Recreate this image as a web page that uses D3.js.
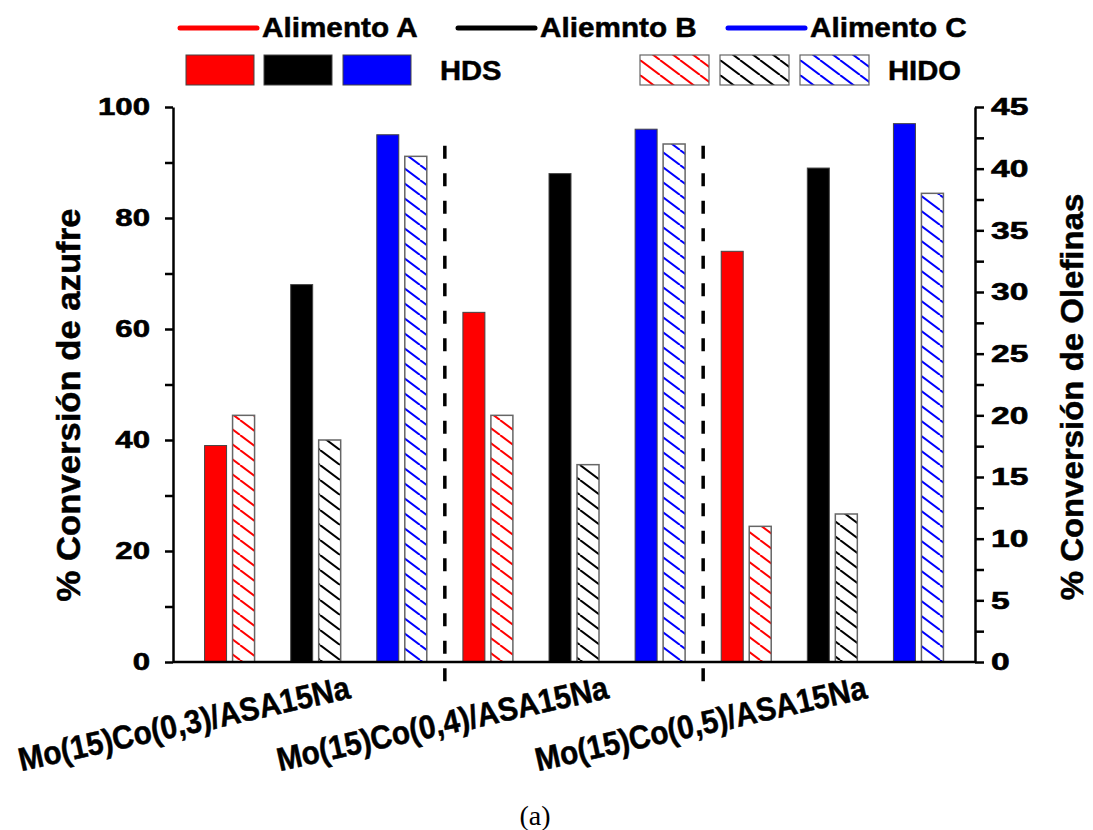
<!DOCTYPE html>
<html>
<head>
<meta charset="utf-8">
<script src="https://cdn.jsdelivr.net/npm/d3@7"></script>
<style>
  body { margin: 0; background: #fff; }
  svg text { font-family: "Liberation Sans", Arial, sans-serif; font-weight: bold; fill: #000; }
  svg text.heavy { stroke: #000; stroke-width: 0.5px; }
</style>
</head>
<body>
<svg id="chart" width="1093" height="830"></svg>
<script>
// Catalysts and feeds
const catalysts = ["Mo(15)Co(0,3)/ASA15Na", "Mo(15)Co(0,4)/ASA15Na", "Mo(15)Co(0,5)/ASA15Na"];
const feeds = ["Alimento A", "Aliemnto B", "Alimento C"];
const feedColors = ["#ff0000", "#000000", "#0000ff"];

// HDS: % sulfur conversion (left axis); one row per catalyst, one column per feed
const hdsValues = [
  [39, 68, 95],
  [63, 88, 96],
  [74, 89, 97]
];
// HIDO: % olefin conversion (right axis)
const hidoValues = [
  [20, 18, 41],
  [20, 16, 42],
  [11, 12, 38]
];

const leftTicks = [0, 10, 20, 30, 40, 50, 60, 70, 80, 90, 100];
const rightTicks = [0, 2.5, 5, 7.5, 10, 12.5, 15, 17.5, 20, 22.5, 25, 27.5, 30, 32.5, 35, 37.5, 40, 42.5, 45];

const svg = d3.select("#chart");
const X0 = 173, X1 = 975, Y0 = 662, Y1 = 107;

const yL = d3.scaleLinear().domain([0, 100]).range([Y0, Y1]);
const yR = d3.scaleLinear().domain([0, 45]).range([Y0, Y1]);
const slots = catalysts.flatMap(c => feeds.map(f => c + "|" + f));
const x = d3.scalePoint().domain(slots).range([X0, X1]).padding(0.657);

const barW = 22, barGap = 6;

// stretch text along its baseline to a target advance
function stretch(sel, k) {
  sel.each(function () {
    const w = this.getComputedTextLength();
    d3.select(this).attr("textLength", w * k).attr("lengthAdjust", "spacingAndGlyphs");
  });
}

// hatch patterns, one per feed colour
const defs = svg.append("defs");
const pw = 20, ph = 15;
feedColors.forEach((c, i) => {
  const p = defs.append("pattern")
    .attr("id", "hatch" + i)
    .attr("patternUnits", "userSpaceOnUse")
    .attr("width", pw).attr("height", ph);
  p.append("rect").attr("width", pw).attr("height", ph).attr("fill", "#fff");
  p.append("path")
    .attr("d", `M0,0L${pw},${ph}M${-pw},0L0,${ph}M${pw},0L${2 * pw},${ph}`)
    .attr("stroke", c).attr("stroke-width", 2);
});

const records = [];
catalysts.forEach((c, ci) => feeds.forEach((f, fi) => {
  records.push({ key: c + "|" + f, fi, hds: hdsValues[ci][fi], hido: hidoValues[ci][fi] });
}));

// dashed separators between catalysts
const seps = [1, 2].map(g => (x(slots[g * 3 - 1]) + x(slots[g * 3])) / 2);
svg.append("g").selectAll("line").data(seps).join("line")
  .attr("x1", d => d).attr("x2", d => d)
  .attr("y1", yL(93)).attr("y2", Y0 + 21)
  .attr("stroke", "#000").attr("stroke-width", 3.5)
  .attr("stroke-dasharray", "13,14.5");

// HDS solid bars
svg.append("g").selectAll("rect").data(records).join("rect")
  .attr("x", d => x(d.key) - barGap / 2 - barW)
  .attr("y", d => yL(d.hds))
  .attr("width", barW)
  .attr("height", d => yL(0) - yL(d.hds))
  .attr("fill", d => feedColors[d.fi])
  .attr("stroke", "#444").attr("stroke-width", 1);

// HIDO hatched bars
svg.append("g").selectAll("rect").data(records).join("rect")
  .attr("x", d => x(d.key) + barGap / 2)
  .attr("y", d => yR(d.hido))
  .attr("width", barW)
  .attr("height", d => yR(0) - yR(d.hido))
  .attr("fill", d => `url(#hatch${d.fi})`)
  .attr("stroke", "#666").attr("stroke-width", 1.5);

// axes
const axL = svg.append("g").attr("transform", `translate(${X0},0)`)
  .call(d3.axisLeft(yL).tickValues(leftTicks).tickSize(8).tickSizeOuter(0).tickPadding(15)
    .tickFormat(d => d % 20 === 0 ? d : ""));
const axR = svg.append("g").attr("transform", `translate(${X1},0)`)
  .call(d3.axisRight(yR).tickValues(rightTicks).tickSize(9).tickSizeOuter(0).tickPadding(7)
    .tickFormat(d => d % 5 === 0 ? d : ""));
[axL, axR].forEach(a => {
  a.attr("font-family", null);
  a.select(".domain").attr("stroke", "#000").attr("stroke-width", 2.5);
  a.selectAll(".tick line").attr("stroke", "#000").attr("stroke-width", 2.5);
  a.selectAll(".tick text")
    .attr("font-size", 24)
    .style("stroke", "#000").style("stroke-width", 0.6);
});
stretch(axL.selectAll(".tick text"), 1.3);
stretch(axR.selectAll(".tick text"), 1.4);

// baseline
svg.append("line")
  .attr("x1", X0).attr("x2", X1).attr("y1", Y0).attr("y2", Y0)
  .attr("stroke", "#000").attr("stroke-width", 2.5);

// catalyst labels
const gx = svg.append("g");
catalysts.forEach((c, ci) => {
  const cx = x(slots[ci * 3 + 1]) + 36;
  gx.append("text").attr("class", "heavy")
    .attr("transform", `translate(${cx},${Y0 + 36}) rotate(-12.5)`)
    .attr("text-anchor", "end")
    .attr("font-size", 33)
    .text(c);
});
stretch(gx.selectAll("text"), 0.9);

// axis titles
const tl = svg.append("text").attr("class", "heavy")
  .attr("transform", `translate(68,405) rotate(-90)`)
  .attr("text-anchor", "middle").attr("dominant-baseline", "central")
  .attr("font-size", 33)
  .text("% Conversión de azufre");
stretch(tl, 1.05);
const tr = svg.append("text").attr("class", "heavy")
  .attr("transform", `translate(1072,397) rotate(-90)`)
  .attr("text-anchor", "middle").attr("dominant-baseline", "central")
  .attr("font-size", 32)
  .text("% Conversión de Olefinas");
stretch(tr, 1.03);

// legend: feed line samples
const lg = svg.append("g");
const lineX = [180, 458, 728];
feeds.forEach((f, i) => {
  lg.append("line")
    .attr("x1", lineX[i]).attr("x2", lineX[i] + 77).attr("y1", 28).attr("y2", 28)
    .attr("stroke", feedColors[i]).attr("stroke-width", 5).attr("stroke-linecap", "round");
  lg.append("text").attr("class", "lt heavy")
    .attr("x", lineX[i] + 82).attr("y", 28)
    .attr("dominant-baseline", "central")
    .attr("font-size", 27)
    .text(f);
});
stretch(lg.selectAll(".lt"), 1.1);

// legend: HDS / HIDO boxes
const boxX = [186, 264, 343], hatchX = [640, 720, 800];
feedColors.forEach((c, i) => {
  lg.append("rect").attr("x", boxX[i]).attr("y", 55).attr("width", 68).attr("height", 30)
    .attr("fill", c).attr("stroke", "#444").attr("stroke-width", 1);
  lg.append("rect").attr("x", hatchX[i]).attr("y", 55).attr("width", 69).attr("height", 30)
    .attr("fill", `url(#hatch${i})`).attr("stroke", "#666").attr("stroke-width", 1.2);
});
const lk = lg.append("g");
lk.append("text").attr("class", "heavy").attr("x", 440).attr("y", 71).attr("dominant-baseline", "central")
  .attr("font-size", 27).text("HDS");
lk.append("text").attr("class", "heavy").attr("x", 888).attr("y", 71).attr("dominant-baseline", "central")
  .attr("font-size", 27).text("HIDO");
stretch(lk.selectAll("text"), 1.08);

// panel caption
svg.append("text")
  .attr("x", 535).attr("y", 815)
  .attr("text-anchor", "middle").attr("dominant-baseline", "central")
  .style("font-family", "'Liberation Serif', 'DejaVu Serif', serif")
  .style("font-weight", "normal")
  .attr("font-size", 28)
  .text("(a)");
</script>
</body>
</html>
